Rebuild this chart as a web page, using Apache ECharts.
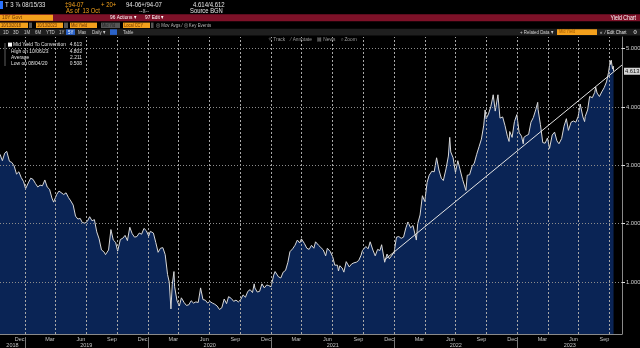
<!DOCTYPE html>
<html>
<head>
<meta charset="utf-8">
<script src="https://cdn.jsdelivr.net/npm/echarts@6/dist/echarts.min.js"></script>
<style>
  html, body { margin: 0; padding: 0; background: #000; }
  #chart { width: 640px; height: 348px; }
</style>
</head>
<body>
<div id="chart"></div>
<script>
// Mid yield to convention, 10Y US Treasury (T 3 7/8 08/15/33), 5Y daily view
const y2018 = [
  ['2018-10-19', 3.19], ['2018-10-26', 3.08], ['2018-11-02', 3.21], ['2018-11-08', 3.24],
  ['2018-11-16', 3.07], ['2018-11-23', 3.05], ['2018-11-30', 2.99], ['2018-12-07', 2.85],
  ['2018-12-14', 2.89], ['2018-12-21', 2.79], ['2018-12-28', 2.72]
];
const y2019 = [
  ['2019-01-03', 2.60], ['2019-01-11', 2.70], ['2019-01-18', 2.78], ['2019-01-25', 2.76],
  ['2019-02-01', 2.69], ['2019-02-08', 2.63], ['2019-02-15', 2.66], ['2019-02-22', 2.65],
  ['2019-03-01', 2.75], ['2019-03-08', 2.63], ['2019-03-15', 2.59], ['2019-03-22', 2.44],
  ['2019-03-27', 2.37], ['2019-04-05', 2.50], ['2019-04-12', 2.56], ['2019-04-17', 2.59],
  ['2019-04-26', 2.50], ['2019-05-03', 2.53], ['2019-05-10', 2.45], ['2019-05-17', 2.39],
  ['2019-05-24', 2.32], ['2019-05-31', 2.13], ['2019-06-07', 2.08], ['2019-06-14', 2.09],
  ['2019-06-20', 2.02], ['2019-06-28', 2.01], ['2019-07-05', 2.04], ['2019-07-12', 2.12],
  ['2019-07-19', 2.05], ['2019-07-26', 2.07], ['2019-08-02', 1.86], ['2019-08-09', 1.74],
  ['2019-08-16', 1.55], ['2019-08-23', 1.52], ['2019-08-28', 1.47], ['2019-09-06', 1.55],
  ['2019-09-13', 1.90], ['2019-09-20', 1.72], ['2019-09-27', 1.68], ['2019-10-03', 1.53],
  ['2019-10-11', 1.73], ['2019-10-18', 1.75], ['2019-10-25', 1.80], ['2019-11-01', 1.71],
  ['2019-11-08', 1.94], ['2019-11-15', 1.83], ['2019-11-22', 1.77], ['2019-11-29', 1.78],
  ['2019-12-06', 1.84], ['2019-12-13', 1.82], ['2019-12-20', 1.92], ['2019-12-27', 1.88]
];
const y2020 = [
  ['2020-01-03', 1.79], ['2020-01-08', 1.87], ['2020-01-17', 1.84], ['2020-01-24', 1.68],
  ['2020-01-31', 1.51], ['2020-02-07', 1.58], ['2020-02-14', 1.59], ['2020-02-21', 1.47],
  ['2020-02-28', 1.13], ['2020-03-04', 1.00], ['2020-03-09', 0.54], ['2020-03-13', 0.96],
  ['2020-03-18', 1.18], ['2020-03-20', 0.92], ['2020-03-27', 0.68], ['2020-04-03', 0.59],
  ['2020-04-09', 0.73], ['2020-04-17', 0.65], ['2020-04-24', 0.60], ['2020-05-01', 0.61],
  ['2020-05-08', 0.68], ['2020-05-15', 0.64], ['2020-05-22', 0.66], ['2020-05-29', 0.65],
  ['2020-06-05', 0.90], ['2020-06-12', 0.70], ['2020-06-19', 0.69], ['2020-06-26', 0.64],
  ['2020-07-02', 0.67], ['2020-07-10', 0.64], ['2020-07-17', 0.62], ['2020-07-24', 0.59],
  ['2020-07-31', 0.53], ['2020-08-04', 0.508], ['2020-08-07', 0.56], ['2020-08-14', 0.71],
  ['2020-08-21', 0.63], ['2020-08-27', 0.75], ['2020-09-04', 0.72], ['2020-09-11', 0.67],
  ['2020-09-18', 0.69], ['2020-09-25', 0.66], ['2020-10-02', 0.70], ['2020-10-09', 0.78],
  ['2020-10-16', 0.74], ['2020-10-23', 0.84], ['2020-10-30', 0.87], ['2020-11-06', 0.82],
  ['2020-11-11', 0.97], ['2020-11-13', 0.90], ['2020-11-20', 0.83], ['2020-11-27', 0.84],
  ['2020-12-04', 0.97], ['2020-12-11', 0.90], ['2020-12-18', 0.95], ['2020-12-24', 0.94],
  ['2020-12-31', 0.92]
];
const y2021 = [
  ['2021-01-08', 1.12], ['2021-01-12', 1.18], ['2021-01-22', 1.09], ['2021-01-29', 1.07],
  ['2021-02-05', 1.17], ['2021-02-12', 1.20], ['2021-02-19', 1.34], ['2021-02-25', 1.52],
  ['2021-03-05', 1.57], ['2021-03-12', 1.63], ['2021-03-19', 1.72], ['2021-03-26', 1.67],
  ['2021-03-31', 1.74], ['2021-04-09', 1.66], ['2021-04-16', 1.58], ['2021-04-23', 1.56],
  ['2021-04-30', 1.63], ['2021-05-07', 1.58], ['2021-05-12', 1.69], ['2021-05-21', 1.63],
  ['2021-05-28', 1.59], ['2021-06-04', 1.55], ['2021-06-11', 1.45], ['2021-06-16', 1.58],
  ['2021-06-25', 1.52], ['2021-07-02', 1.43], ['2021-07-08', 1.29], ['2021-07-16', 1.29],
  ['2021-07-19', 1.19], ['2021-07-23', 1.28], ['2021-07-30', 1.24], ['2021-08-04', 1.17],
  ['2021-08-11', 1.35], ['2021-08-20', 1.26], ['2021-08-27', 1.31], ['2021-09-03', 1.33],
  ['2021-09-10', 1.34], ['2021-09-17', 1.37], ['2021-09-24', 1.46], ['2021-09-28', 1.54],
  ['2021-10-08', 1.61], ['2021-10-15', 1.57], ['2021-10-21', 1.69], ['2021-10-29', 1.55],
  ['2021-11-05', 1.45], ['2021-11-12', 1.56], ['2021-11-19', 1.54], ['2021-11-24', 1.64],
  ['2021-12-01', 1.41], ['2021-12-03', 1.34], ['2021-12-10', 1.48], ['2021-12-17', 1.40],
  ['2021-12-20', 1.43], ['2021-12-31', 1.51]
];
const y2022 = [
  ['2022-01-07', 1.77], ['2022-01-14', 1.78], ['2022-01-21', 1.75], ['2022-01-28', 1.77],
  ['2022-02-04', 1.93], ['2022-02-10', 2.03], ['2022-02-18', 1.93], ['2022-02-25', 1.97],
  ['2022-03-07', 1.72], ['2022-03-11', 2.00], ['2022-03-18', 2.15], ['2022-03-25', 2.48],
  ['2022-04-01', 2.38], ['2022-04-08', 2.71], ['2022-04-14', 2.83], ['2022-04-22', 2.90],
  ['2022-04-29', 2.89], ['2022-05-06', 3.13], ['2022-05-13', 2.92], ['2022-05-20', 2.78],
  ['2022-05-26', 2.74], ['2022-06-03', 2.94], ['2022-06-10', 3.16], ['2022-06-14', 3.48],
  ['2022-06-17', 3.23], ['2022-06-24', 3.13], ['2022-07-01', 2.88], ['2022-07-08', 3.08],
  ['2022-07-15', 2.92], ['2022-07-22', 2.76], ['2022-08-01', 2.57], ['2022-08-05', 2.83],
  ['2022-08-12', 2.84], ['2022-08-19', 2.98], ['2022-08-26', 3.04], ['2022-09-02', 3.19],
  ['2022-09-09', 3.32], ['2022-09-16', 3.45], ['2022-09-23', 3.69], ['2022-09-27', 3.95],
  ['2022-09-30', 3.80], ['2022-10-07', 3.88], ['2022-10-14', 4.01], ['2022-10-21', 4.21],
  ['2022-10-27', 3.93], ['2022-11-04', 4.21], ['2022-11-10', 3.81], ['2022-11-18', 3.83],
  ['2022-11-25', 3.68], ['2022-12-02', 3.50], ['2022-12-07', 3.41], ['2022-12-09', 3.58],
  ['2022-12-16', 3.48], ['2022-12-23', 3.75], ['2022-12-30', 3.87]
];
const y2023 = [
  ['2023-01-06', 3.56], ['2023-01-13', 3.50], ['2023-01-18', 3.37], ['2023-01-20', 3.48],
  ['2023-01-27', 3.51], ['2023-02-03', 3.53], ['2023-02-10', 3.74], ['2023-02-17', 3.82],
  ['2023-02-24', 3.95], ['2023-03-02', 4.08], ['2023-03-03', 3.96], ['2023-03-10', 3.70],
  ['2023-03-17', 3.39], ['2023-03-24', 3.38], ['2023-03-31', 3.47], ['2023-04-06', 3.29],
  ['2023-04-14', 3.52], ['2023-04-21', 3.57], ['2023-04-28', 3.42], ['2023-05-04', 3.37],
  ['2023-05-12', 3.46], ['2023-05-19', 3.67], ['2023-05-26', 3.80], ['2023-06-01', 3.60],
  ['2023-06-09', 3.74], ['2023-06-16', 3.76], ['2023-06-23', 3.74], ['2023-06-30', 3.84],
  ['2023-07-06', 4.05], ['2023-07-14', 3.83], ['2023-07-19', 3.75], ['2023-07-21', 3.84],
  ['2023-07-28', 3.95], ['2023-08-03', 4.18], ['2023-08-11', 4.16], ['2023-08-18', 4.25],
  ['2023-08-21', 4.34], ['2023-08-25', 4.24], ['2023-09-01', 4.18], ['2023-09-08', 4.26],
  ['2023-09-15', 4.33], ['2023-09-22', 4.43], ['2023-09-28', 4.59], ['2023-10-03', 4.79],
  ['2023-10-04', 4.73], ['2023-10-06', 4.803], ['2023-10-10', 4.65], ['2023-10-12', 4.70],
  ['2023-10-13', 4.613]
];

// Trend line drawn from the Dec-2021 low to the right edge
const trendStart = ['2021-12-02', 1.378];
const trendEnd = ['2023-11-07', 4.72];

// Axis ranges and tick marks
const xRange = ['2018-10-19', '2023-11-07'];
const yRange = [0.11, 5.2];
const yTicks = [1, 2, 3, 4, 5];
const quarterStarts = [
  '2019-01-01', '2019-04-01', '2019-07-01', '2019-10-01',
  '2020-01-01', '2020-04-01', '2020-07-01', '2020-10-01',
  '2021-01-01', '2021-04-01', '2021-07-01', '2021-10-01',
  '2022-01-01', '2022-04-01', '2022-07-01', '2022-10-01',
  '2023-01-01', '2023-04-01', '2023-07-01', '2023-10-01'
];
const monthLabelDates = [
  '2018-12-16', '2019-03-16', '2019-06-16', '2019-09-16', '2019-12-16',
  '2020-03-16', '2020-06-16', '2020-09-16', '2020-12-16',
  '2021-03-16', '2021-06-16', '2021-09-16', '2021-12-16',
  '2022-03-16', '2022-06-16', '2022-09-16', '2022-12-16',
  '2023-03-16', '2023-06-16', '2023-09-16'
];
const monthNames = ['Jan', 'Feb', 'Mar', 'Apr', 'May', 'Jun', 'Jul', 'Aug', 'Sep', 'Oct', 'Nov', 'Dec'];
const yearStarts = ['2019-01-01', '2020-01-01', '2021-01-01', '2022-01-01', '2023-01-01'];
const yearLabelDates = ['2018-11-25', '2019-07-02', '2020-07-02', '2021-07-02', '2022-07-02', '2023-06-05'];

// Legend figures
const legendRows = [
  ['Mid Yield To Convention', '4.613'],
  ['High on 10/06/23', '4.803'],
  ['Average', '2.211'],
  ['Low on 08/04/20', '0.508']
];

const FONT = '"Liberation Sans", Arial, sans-serif';
const ts = s => { const p = s.split('-'); return new Date(+p[0], +p[1] - 1, +p[2]).getTime(); };
const points = [].concat(y2018, y2019, y2020, y2021, y2022, y2023).map(d => [ts(d[0]), d[1]]);
const lastValue = points[points.length - 1][1];

// narrow terminal-style text
function txt(x, y, text, fill, size, align, sx) {
  return {
    type: 'text', x: x, y: y, silent: true, scaleX: sx || 0.8,
    style: {
      text: text, fill: fill, font: (size || 7) + 'px ' + FONT,
      textAlign: align || 'left', align: align || 'left',
      textVerticalAlign: 'middle', verticalAlign: 'middle'
    }
  };
}
function box(x, y, w, h, fill) {
  return { type: 'rect', silent: true, shape: { x: x, y: y, width: w, height: h }, style: { fill: fill } };
}

const ORANGE = '#f3a01c';
const LIGHT = '#e6e6e6';
const BTN = '#cfcfcf';
const header = [
  // security line
  box(0, 1, 3, 8, '#2a73ff'),
  txt(5, 4.6, 'T 3 \u215E 08/15/33', LIGHT, 8, 'left', 0.75),
  txt(65, 4.6, '\u202194-07', ORANGE, 8, 'left', 0.75),
  txt(101, 4.6, '+ 20+', ORANGE, 8, 'left', 0.75),
  txt(126, 4.6, '94-06+/94-07', LIGHT, 8, 'left', 0.75),
  txt(193, 4.6, '4.614/4.612', LIGHT, 8, 'left', 0.75),
  txt(66, 10.6, 'As of  13 Oct', ORANGE, 7.5, 'left', 0.78),
  txt(139, 10.6, '--x--', BTN, 7, 'left', 0.78),
  txt(190, 10.6, 'Source BGN', LIGHT, 7.5, 'left', 0.78),
  // red action bar
  box(0, 14.2, 640, 7, '#7d1128'),
  box(0, 14.7, 53, 6, ORANGE),
  txt(2, 17.8, '10Y Govt', '#6b3300', 6),
  txt(110, 17.8, '96 Actions \u25BE', '#ffffff', 6),
  txt(145, 17.8, '97 Edit \u25BE', '#ffffff', 6),
  txt(636, 17.8, 'Yield Chart', '#ffffff', 6.5, 'right'),
  // date / field boxes
  box(0, 22.6, 28, 5.4, ORANGE), txt(1, 25.3, '10/13/2018', '#6b3300', 5),
  box(29, 22.6, 3, 5.4, '#555'),
  box(36, 22.6, 27, 5.4, ORANGE), txt(37, 25.3, '10/13/2023', '#6b3300', 5),
  box(64, 22.6, 4, 5.4, '#555'),
  box(70, 22.6, 27, 5.4, ORANGE), txt(71, 25.3, 'Mid Yield', '#6b3300', 5),
  box(101, 22.6, 19, 5.4, '#555'), txt(102, 25.3, 'Mid Yld', '#222', 5),
  box(123, 22.6, 27, 5.4, ORANGE), txt(124, 25.3, 'Local CCY', '#6b3300', 5),
  box(151, 22.6, 2.5, 5.4, '#555'),
  txt(156, 25.3, '\u25CE Mov Avgs \u2044 \u25CE Key Events', '#b8b8b8', 5.5),
  // range bar
  box(0, 28.8, 640, 6.6, '#1f1f1f'),
  txt(3, 32.1, '1D', BTN, 5.5), txt(13, 32.1, '3D', BTN, 5.5),
  txt(24, 32.1, '1M', BTN, 5.5), txt(35, 32.1, '6M', BTN, 5.5),
  txt(46, 32.1, 'YTD', BTN, 5.5), txt(59, 32.1, '1Y', BTN, 5.5),
  box(66, 29.3, 9, 5.6, '#2b63c9'), txt(68, 32.1, '5Y', '#ffffff', 5.5),
  txt(78, 32.1, 'Max', BTN, 5.5), txt(92, 32.1, 'Daily \u25BE', BTN, 5.5),
  box(110, 29.3, 7, 5.6, '#2b63c9'),
  txt(123, 32.1, 'Table', BTN, 5.5),
  txt(520, 32.1, '+ Related Data \u25BE', BTN, 5.5),
  box(557, 29.3, 40, 5.6, ORANGE), txt(559, 32.1, 'Mid Yield', '#a35a00', 5),
  txt(600, 32.1, '\u00AB', BTN, 5.5),
  txt(605, 32.1, '\u2044 Edit Chart', LIGHT, 5.5),
  txt(633, 32.1, '\u2699', BTN, 5.5),
  // chart tools
  txt(268, 39.8, '\u2727 Track    \u2044 Annotate    \u25A4 News    \u2315 Zoom', '#9a9a9a', 6)
];

// legend block
const legend = [
  { type: 'line', silent: true, shape: { x1: 5, y1: 43, x2: 5, y2: 66 }, style: { stroke: '#777', lineWidth: 0.8 } },
  box(8, 42.6, 4, 4, '#ffffff')
];
legendRows.forEach((r, i) => {
  const y = 44.8 + i * 6.1;
  legend.push(txt(i === 0 ? 13 : 11, y, r[0], '#e2e2e2', 6, 'left', 0.82));
  legend.push(txt(82, y, r[1], '#e2e2e2', 6, 'right', 0.82));
});

// dotted grid drawn over the area: quarter starts and whole-percent levels
const GRID = { color: '#8c8c8c', width: 1, type: [1, 2], opacity: 1 };
const VGRID = { color: '#a8a8a8', width: 1, type: [2, 2], opacity: 1 };
const gridMarks = quarterStarts.map(d => [
    { coord: [ts(d), yRange[0]], lineStyle: VGRID },
    { coord: [ts(d), yRange[1]] }
  ])
  .concat(yTicks.map(v => ({ yAxis: v, lineStyle: GRID })));

const chart = echarts.init(document.getElementById('chart'), null, { renderer: 'canvas' });
chart.setOption({
  animation: false,
  backgroundColor: '#000',
  textStyle: { fontFamily: FONT },
  grid: { left: 0, right: 18, top: 37, bottom: 14, containLabel: false, outerBoundsMode: 'none' },
  xAxis: [
    {
      type: 'value', min: ts(xRange[0]), max: ts(xRange[1]), scale: true,
      axisLine: { show: true, lineStyle: { color: '#8a8a8a', width: 1 } },
      axisTick: { show: false },
      splitLine: { show: false },
      axisLabel: {
        customValues: monthLabelDates.map(ts), margin: 2, fontSize: 5.5, color: '#c4c4c4',
        formatter: v => monthNames[new Date(v).getMonth()], hideOverlap: false
      }
    },
    {
      type: 'value', min: ts(xRange[0]), max: ts(xRange[1]), scale: true,
      position: 'bottom', offset: 3,
      axisLine: { show: false },
      axisTick: { show: true, customValues: yearStarts.map(ts), length: 11, lineStyle: { color: '#777' } },
      splitLine: { show: false },
      axisLabel: {
        customValues: yearLabelDates.map(ts), margin: 5, fontSize: 5.5, color: '#c4c4c4',
        formatter: v => String(new Date(v).getFullYear()), hideOverlap: false
      }
    }
  ],
  yAxis: [
    {
      type: 'value', position: 'right', min: yRange[0], max: yRange[1],
      axisLine: { show: true, lineStyle: { color: '#8a8a8a', width: 1 } },
      axisTick: { show: true, customValues: yTicks, length: 3, lineStyle: { color: '#e0e0e0' } },
      splitLine: { show: false },
      axisLabel: {
        customValues: yTicks, margin: 4, fontSize: 5.8, color: '#d0d0d0',
        formatter: v => v.toFixed(3)
      }
    },
    {
      type: 'value', position: 'right', min: yRange[0], max: yRange[1],
      axisLine: { show: false }, axisTick: { show: false }, splitLine: { show: false },
      axisLabel: {
        customValues: [lastValue], margin: 2, fontSize: 5.8, color: '#111',
        backgroundColor: '#d6d6d6', padding: [1, 1, 0, 1],
        formatter: v => v.toFixed(3)
      }
    }
  ],
  series: [{
    type: 'line',
    data: points,
    showSymbol: false,
    symbol: 'none',
    sampling: 'none',
    lineStyle: { color: '#d8d8d8', width: 1 },
    areaStyle: { color: '#0a2455', opacity: 1, origin: 'start' },
    z: 2,
    markLine: {
      silent: true, symbol: 'none', label: { show: false },
      lineStyle: { color: '#e4e4e4', width: 1, type: 'solid' },
      data: gridMarks.concat([
        [{ coord: [ts(trendStart[0]), trendStart[1]] }, { coord: [ts(trendEnd[0]), trendEnd[1]] }]
      ])
    }
  }],
  graphic: header.concat(legend)
});
</script>
</body>
</html>
